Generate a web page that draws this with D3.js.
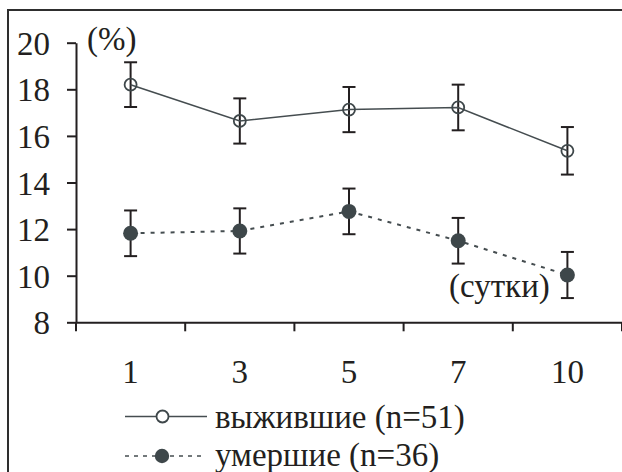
<!DOCTYPE html>
<html>
<head>
<meta charset="utf-8">
<script src="https://cdn.jsdelivr.net/npm/d3@7"></script>
<style>
html,body{margin:0;padding:0;background:#fff;}
svg{display:block;}
</style>
</head>
<body>
<svg id="chart" width="622" height="472" font-family="Liberation Serif"></svg>
<script>
const categories = ["1", "3", "5", "7", "10"];
const yTicks = [8, 10, 12, 14, 16, 18, 20];
const survivedMean = [18.2, 16.64, 17.13, 17.22, 15.36];
const survivedErr  = [0.96, 0.97, 0.97, 0.98, 1.02];
const diedMean = [11.82, 11.92, 12.76, 11.5, 10.03];
const diedErr  = [0.98, 0.97, 0.98, 0.98, 0.99];
const seriesNames = ["выжившие (n=51)", "умершие (n=36)"];
const yUnit = "(%)";
const xUnit = "(сутки)";

const svg = d3.select("#chart");
const FONT = "Liberation Serif";
const FS = 33;
const INK = "#231f20";
const LINE = "#454d50";
const MARK = "#3e474a";

function txt(sel) {
  return sel.attr("font-family", FONT).attr("font-size", FS).attr("fill", INK);
}

// frame
svg.append("rect").attr("x", 8).attr("y", 10).attr("width", 720).attr("height", 600)
  .attr("fill", "none").attr("stroke", "#2e2e2e").attr("stroke-width", 2);

const x = d3.scaleBand().domain(categories).range([76, 622]).paddingInner(0).paddingOuter(0);
const y = d3.scaleLinear().domain([8, 20]).range([322.3, 42.7]);

// y axis
const gy = svg.append("g").attr("transform", "translate(76,0)")
  .call(d3.axisLeft(y).tickValues(yTicks).tickSize(9).tickSizeOuter(0).tickFormat(d3.format("d")));
gy.attr("font-family", FONT).attr("font-size", FS);
gy.select(".domain").attr("stroke", INK).attr("stroke-width", 2);
gy.selectAll(".tick line").attr("stroke", INK).attr("stroke-width", 2);
txt(gy.selectAll(".tick text")).attr("x", -26).attr("dy", "0.35em");

// x axis
const gx = svg.append("g").attr("transform", `translate(0,${y(8)})`)
  .call(d3.axisBottom(x).tickSize(0).tickSizeOuter(0));
gx.attr("font-family", FONT).attr("font-size", FS);
gx.select(".domain").attr("stroke", INK).attr("stroke-width", 2);
txt(gx.selectAll(".tick text")).attr("y", 61).attr("dy", 0);
const bounds = categories.map(c => x(c)).concat([x(categories[categories.length - 1]) + x.bandwidth()]);
gx.selectAll("line.bt").data(bounds).enter().append("line").attr("class", "bt")
  .attr("x1", d => d).attr("x2", d => d).attr("y1", 0).attr("y2", 9)
  .attr("stroke", INK).attr("stroke-width", 2);

const cx = c => x(c) + x.bandwidth() / 2;

function errorBars(means, errs) {
  const g = svg.append("g");
  categories.forEach((c, i) => {
    const xc = cx(c), yt = y(means[i] + errs[i]), yb = y(means[i] - errs[i]);
    g.append("line").attr("x1", xc).attr("x2", xc).attr("y1", yt).attr("y2", yb)
      .attr("stroke", INK).attr("stroke-width", 2);
    [yt, yb].forEach(v => g.append("line").attr("x1", xc - 6.5).attr("x2", xc + 6.5)
      .attr("y1", v).attr("y2", v).attr("stroke", INK).attr("stroke-width", 2));
  });
}

const line = d3.line().x((d, i) => cx(categories[i])).y(d => y(d));

// survivors
errorBars(survivedMean, survivedErr);
svg.append("path").datum(survivedMean).attr("d", line).attr("fill", "none")
  .attr("stroke", LINE).attr("stroke-width", 1.6);
svg.append("g").selectAll("circle").data(survivedMean).enter().append("circle")
  .attr("cx", (d, i) => cx(categories[i])).attr("cy", d => y(d)).attr("r", 6)
  .attr("fill", "none").attr("stroke", MARK).attr("stroke-width", 1.8);

// died
errorBars(diedMean, diedErr);
svg.append("path").datum(diedMean).attr("d", line).attr("fill", "none")
  .attr("stroke", LINE).attr("stroke-width", 2).attr("stroke-dasharray", "4,6");
svg.append("g").selectAll("circle").data(diedMean).enter().append("circle")
  .attr("cx", (d, i) => cx(categories[i])).attr("cy", d => y(d)).attr("r", 7.5)
  .attr("fill", MARK);

// units
txt(svg.append("text")).attr("x", 87).attr("y", 50).text(yUnit);
txt(svg.append("text")).attr("x", 449).attr("y", 297).text(xUnit);

// legend
const leg = svg.append("g");
leg.append("line").attr("x1", 125).attr("x2", 207).attr("y1", 416.5).attr("y2", 416.5)
  .attr("stroke", LINE).attr("stroke-width", 1.6);
leg.append("circle").attr("cx", 162.5).attr("cy", 416.5).attr("r", 6).attr("fill", "#fff")
  .attr("stroke", MARK).attr("stroke-width", 1.8);
txt(leg.append("text")).attr("x", 215).attr("y", 428).text(seriesNames[0]);
leg.append("line").attr("x1", 125).attr("x2", 201).attr("y1", 456).attr("y2", 456)
  .attr("stroke", LINE).attr("stroke-width", 1.6).attr("stroke-dasharray", "4,5");
leg.append("circle").attr("cx", 162).attr("cy", 456).attr("r", 7.2).attr("fill", MARK);
txt(leg.append("text")).attr("x", 215).attr("y", 466).text(seriesNames[1]);
</script>
</body>
</html>
